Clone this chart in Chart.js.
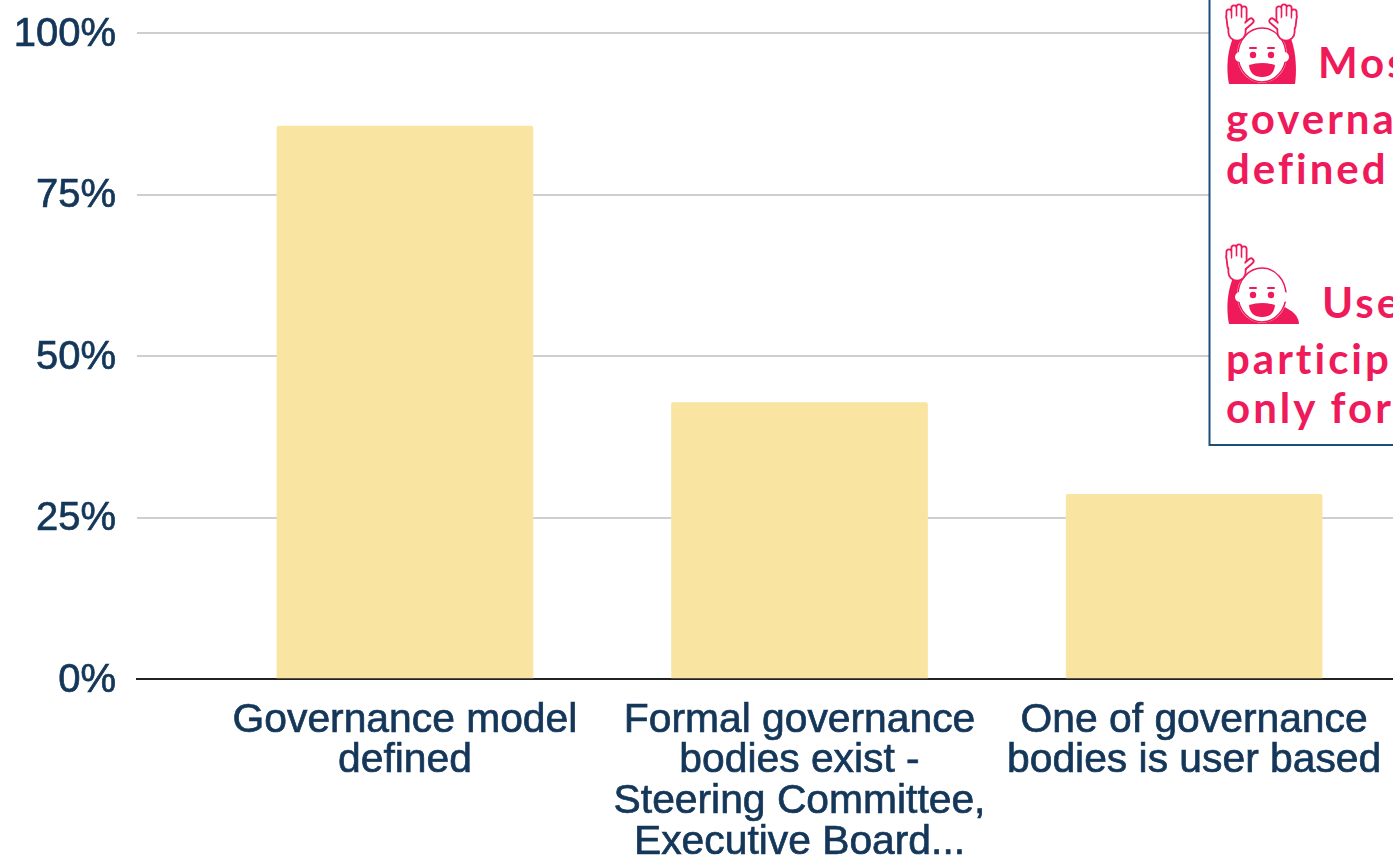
<!DOCTYPE html>
<html>
<head>
<meta charset="utf-8">
<title>Governance</title>
<script src="https://cdn.jsdelivr.net/npm/chart.js@4"></script>
<style>
  html, body { margin: 0; padding: 0; background: #fff; overflow: hidden; }
  #wrap { position: relative; width: 1393px; height: 859px; overflow: hidden; }
  #chart { position: absolute; left: 0; top: 0; }
  #callout { position: absolute; left: 0; top: 0; }
  #callout text { font-family: Lato, sans-serif; font-weight: 700; font-size: 42px; letter-spacing: 3px; fill: #ef1a5a; }
</style>
</head>
<body>
<div id="wrap">
  <canvas id="chart" width="1393" height="859"></canvas>
  <svg id="callout" width="1393" height="859" viewBox="0 0 1393 859">
    <defs>
      <!-- open palm: pink silhouette under a narrower white one -->
      <g id="hand" fill="none" stroke-linecap="round" stroke-linejoin="round">
        <g stroke="#ef1a5a">
          <path d="M-10 -4 L-10 -9 M-5 -1 L-5 -13 M0 -1 L0 -14 M5 -1 L5 -12" stroke-width="7"/>
          <path d="M-2 3 L-2 11" stroke-width="19"/>
          <path d="M5 6 L12 0" stroke-width="7"/>
          <path d="M-10 -4 L-9 5" stroke-width="7"/>
        </g>
        <g stroke="#fff">
          <path d="M-10 -4 L-10 -9 M-5 -1 L-5 -13 M0 -1 L0 -14 M5 -1 L5 -12" stroke-width="3.4"/>
          <path d="M-2 3 L-2 11" stroke-width="15.5"/>
          <path d="M5 6 L12 0" stroke-width="3.4"/>
          <path d="M-10 -4 L-9 5" stroke-width="3.4"/>
        </g>
      </g>
      <g id="face">
        <ellipse rx="22" ry="25" fill="#fff"/>
        <circle cx="-22" cy="2" r="5" fill="#fff"/>
        <circle cx="22" cy="2" r="5" fill="#fff"/>
        <circle cx="-9" cy="0" r="3.2" fill="#ef1a5a"/>
        <circle cx="9" cy="0" r="3.2" fill="#ef1a5a"/>
        <path d="M-12 -7 h6 M6 -7 h6" stroke="#ef1a5a" stroke-width="2" stroke-linecap="round"/>
        <path d="M-13 10 Q0 6 13 10 Q12 22 0 22 Q-12 22 -13 10 Z" fill="#ef1a5a"/>
      </g>
    </defs>
    <rect x="1209.5" y="-10" width="200" height="455" fill="#fff" stroke="#1f4e79" stroke-width="2"/>

    <!-- both hands up -->
    <path d="M1234 36 L1290 36 C1296 50 1297 70 1295 84 L1229 84 C1226 70 1227 50 1234 36 Z" fill="#ef1a5a"/>
    <ellipse cx="1262" cy="55" rx="25" ry="28" fill="#fff"/>
    <ellipse cx="1262" cy="55" rx="24" ry="27" fill="none" stroke="#ef1a5a" stroke-width="1.5"/>
    <use href="#hand" x="1239" y="21"/>
    <use href="#hand" transform="translate(1284 21) scale(-1 1)"/>
    <use href="#face" x="1262" y="55"/>

    <!-- one hand up -->
    <path d="M1234 276 L1250 276 L1262 300 L1282 306 C1292 310 1299 316 1299 324 L1229 324 C1226 310 1227 290 1234 276 Z" fill="#ef1a5a"/>
    <ellipse cx="1262" cy="295" rx="25" ry="28" fill="#fff"/>
    <ellipse cx="1262" cy="295" rx="24" ry="27" fill="none" stroke="#ef1a5a" stroke-width="1.5"/>
    <use href="#hand" x="1239" y="261"/>
    <use href="#face" x="1262" y="295"/>

    <text x="1318" y="78">Mos</text>
    <text x="1226" y="134">governa</text>
    <text x="1226" y="184">defined</text>
    <text x="1322" y="318">Use</text>
    <text x="1226" y="374">particip</text>
    <text x="1226" y="423">only for</text>
  </svg>
</div>
<script>
const categories = [
  ['Governance model', 'defined'],
  ['Formal governance', 'bodies exist -', 'Steering Committee,', 'Executive Board...'],
  ['One of governance', 'bodies is user based']
];
const shares = [85.6, 42.8, 28.6];
const yTicks = [0, 25, 50, 75, 100];

const navy = '#143659';

new Chart(document.getElementById('chart'), {
  type: 'bar',
  data: {
    datasets: [{
      data: shares.map((v, i) => ({ x: i, y: v })),
      backgroundColor: '#f9e4a2',
      borderRadius: 2,
      borderSkipped: 'bottom',
      barThickness: 256
    }]
  },
  options: {
    responsive: false,
    animation: false,
    layout: { padding: { top: 33 } },
    plugins: { legend: { display: false }, tooltip: { enabled: false } },
    scales: {
      x: {
        type: 'linear',
        offset: false,
        min: -0.679,
        max: 2.504,
        afterBuildTicks: s => { s.ticks = categories.map((c, i) => ({ value: i })); },
        afterFit: s => { s.height = 180; s.paddingLeft = 0; s.paddingRight = 0; },
        grid: { display: false },
        border: { color: '#222', width: 2 },
        ticks: {
          autoSkip: false,
          maxRotation: 0,
          padding: 13,
          color: navy,
          textStrokeColor: navy,
          textStrokeWidth: 0.7,
          font: { family: 'Liberation Sans, Arial, sans-serif', size: 40.8, lineHeight: 1 },
          callback: v => categories[v]
        }
      },
      y: {
        min: 0,
        max: 100,
        afterBuildTicks: s => { s.ticks = yTicks.map(v => ({ value: v })); },
        afterFit: s => { s.width = 137; s.paddingTop = 0; s.paddingBottom = 0; },
        grid: { color: '#cfcfcf', lineWidth: 2, drawTicks: false },
        border: { display: false },
        ticks: {
          padding: 21,
          labelOffset: 1.5,
          color: navy,
          textStrokeColor: navy,
          textStrokeWidth: 0.7,
          font: { family: 'Liberation Sans, Arial, sans-serif', size: 40 },
          callback: v => v + '%'
        }
      }
    }
  }
});
</script>
</body>
</html>
